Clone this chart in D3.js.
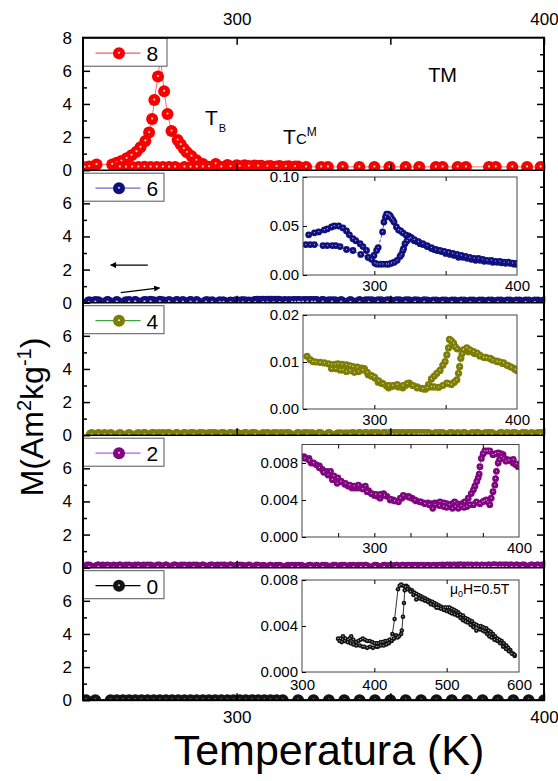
<!DOCTYPE html>
<html>
<head>
<meta charset="utf-8">
<script src="https://cdn.jsdelivr.net/npm/d3@7"></script>
<style>
  body { margin: 0; background: #fff; }
  svg { display: block; }
  text { font-family: "Liberation Sans", Arial, sans-serif; fill: #000; }
</style>
</head>
<body>
<svg id="chart" width="558" height="781"></svg>
<script>
// ---------- data: [temperature (K), M (Am2/kg)] ----------
const sampleLabels = ["8", "6", "4", "2", "0"];

// sample 8: warming branch with the blocking peak, and return branch
const s8Heat = [[250.5,0.18],[252,0.22],[254.4,0.35],[259.5,0.35],[261,0.45],[262.5,0.55],[264.2,0.72],[265.8,0.9],[267.4,1.12],[268.7,1.38],[270.3,1.77],[271.5,2.27],[272.5,3.09],[273.2,4.24],[274.4,5.66],[275.2,6.8],[276.4,4.77],[277.5,3.39],[278.8,2.37],[280.8,1.82],[281.8,1.55],[282.8,1.3],[283.8,1.08],[285.3,0.85],[286.9,0.6],[289,0.38],[293.2,0.38],[297,0.32],[300,0.3],[302.6,0.3],[305.8,0.28],[308,0.27],[311,0.26],[314,0.25],[317,0.24],[320,0.23],[322.6,0.2],[327.5,0.2],[329.7,0.2],[334.5,0.2],[339.9,0.2],[344.8,0.2],[349.7,0.2],[355,0.2],[359.4,0.2],[364.8,0.2],[367,0.2],[371.9,0.2],[374.6,0.2],[382.1,0.2],[384.3,0.2],[389.7,0.2],[394.5,0.2],[398.9,0.2]];
const s8Cool = [[262,0.2],[264,0.19],[266,0.2],[268,0.2],[270,0.21],[272,0.2],[274,0.2],[276,0.2],[278,0.19],[280,0.2],[283,0.2],[285,0.19],[287,0.2],[289,0.2],[291,0.21],[295,0.2],[298,0.22],[301,0.24],[304,0.25],[307,0.25],[310,0.24],[313,0.23],[316,0.22],[319,0.22]];

// sample 6
const s6Heat = [[252,0.031],[255,0.031],[258,0.031],[264,0.030],[267,0.030],[270.6,0.030],[273,0.030],[276,0.029],[280.5,0.026],[285,0.025],[290.5,0.021],[295.7,0.018],[299.7,0.020],[301.6,0.025],[302.7,0.028],[305.8,0.044],[306.7,0.054],[307.8,0.059],[308.6,0.062],[309.6,0.062],[310.5,0.061],[311.2,0.060],[312,0.058],[313,0.056],[313.8,0.054],[315.5,0.049],[317,0.046],[318.5,0.045],[320,0.043],[322,0.041],[324,0.040],[326,0.038],[328,0.035],[330,0.034],[332,0.032],[334,0.031],[337,0.029],[340,0.027],[342,0.026],[344,0.025],[347,0.024],[350,0.022],[353,0.021],[356,0.020],[359,0.018],[362,0.018],[365,0.017],[368,0.016],[371,0.015],[374,0.015],[377,0.014],[380,0.014],[383,0.013],[386,0.013],[389,0.0125],[392,0.012],[395,0.012],[398,0.011],[400,0.011]];
const s6Cool = [[400,0.012],[397,0.012],[394,0.013],[391,0.013],[388,0.014],[385,0.014],[382,0.015],[379,0.015],[376,0.016],[373,0.017],[370,0.017],[367,0.018],[364,0.019],[361,0.020],[358,0.021],[355,0.022],[352,0.023],[349,0.024],[346,0.025],[343,0.026],[340,0.028],[337,0.030],[334,0.032],[331,0.034],[328,0.036],[325.5,0.038],[324.5,0.037],[323,0.035],[321.5,0.032],[320.5,0.027],[320,0.025],[319,0.021],[318,0.019],[316,0.015],[314,0.013],[312,0.012],[310,0.011],[308.6,0.011],[306,0.011],[304,0.011],[302,0.011],[300.4,0.012],[298,0.016],[295.7,0.018],[294.5,0.025],[292,0.029],[290,0.032],[287,0.035],[285,0.037],[282.5,0.041],[280.5,0.045],[278,0.048],[275,0.050],[272,0.050],[270,0.049],[267,0.047],[265,0.046],[261,0.044],[258,0.043],[254,0.041]];

// sample 4
const s4Heat = [[252.8,0.0112],[255,0.0105],[257,0.0101],[259,0.0100],[262,0.0099],[265,0.0098],[268,0.0096],[270,0.0094],[272.5,0.0095],[274.6,0.0096],[277.5,0.0095],[280.5,0.0094],[283,0.0092],[285,0.0090],[288,0.0089],[291,0.0087],[293,0.0086],[295.7,0.0073],[298,0.0070],[300.4,0.0066],[302.7,0.0057],[305,0.0055],[308.6,0.0049],[310,0.0045],[312,0.0048],[314.5,0.0049],[317,0.0047],[320,0.0045],[322,0.0050],[324.5,0.0055],[327,0.0050],[330,0.0047],[333,0.0044],[335.6,0.0042],[338,0.0052],[340,0.0064],[342,0.0070],[343.8,0.0076],[346,0.0082],[348,0.0093],[349.6,0.0101],[350.8,0.0115],[352,0.0130],[352.7,0.0148],[354,0.0145],[355.5,0.0140],[356.6,0.0133],[358,0.0128],[362,0.0124],[366,0.0122],[370,0.0118],[374,0.0113],[378,0.0110],[382,0.0106],[386,0.0102],[390,0.0097],[394,0.0092],[398,0.0086],[400,0.0083]];
const s4Cool = [[400,0.0082],[398.8,0.0084],[396,0.0089],[393,0.0093],[390.6,0.0098],[388,0.0100],[386,0.0101],[383,0.0104],[381,0.0108],[378.6,0.0109],[376.6,0.0110],[374,0.0114],[372,0.0119],[369.5,0.0122],[367,0.0126],[364.8,0.0130],[362.5,0.0126],[361.5,0.0118],[360.6,0.0108],[359.8,0.0090],[359,0.0076],[357.8,0.0062],[356,0.0057],[354,0.0052],[352,0.0054],[350.8,0.0055],[348,0.0050],[345,0.0046],[342,0.0047],[340,0.0047],[337,0.0045],[334,0.0043],[330,0.0045],[327,0.0050],[323,0.0054],[320,0.0050],[316,0.0052],[313,0.0050],[310,0.0050],[306,0.0054],[303,0.0060],[300,0.0068],[298,0.0071],[295,0.0078],[292,0.0083],[289,0.0080],[286,0.0078],[283,0.0082],[280.5,0.0080],[278,0.0083],[276,0.0083],[273,0.0086],[270,0.0086]];

// sample 2
const s2Heat = [[251.4,0.0087],[254.8,0.0085],[256.4,0.0080],[260,0.0078],[262,0.0077],[264,0.0073],[267,0.0071],[269.7,0.0071],[272,0.0066],[274.8,0.0064],[277,0.0060],[279.6,0.0057],[282,0.0055],[284.6,0.0053],[287,0.0053],[289,0.0053],[291.5,0.0054],[293.8,0.0055],[296,0.0050],[298,0.0047],[300,0.0045],[302,0.0044],[304,0.0042],[306.4,0.0047],[308.7,0.0044],[311,0.0040],[313,0.0040],[316.7,0.0038],[319,0.0042],[321,0.0044],[323.6,0.0044],[326,0.0042],[329,0.0039],[331.5,0.0038],[334,0.0037],[337,0.0037],[339.7,0.0036],[342,0.0037],[345.4,0.0038],[348,0.0037],[350,0.0036],[352,0.0033],[354,0.0036],[355.5,0.0038],[357,0.0036],[359,0.0033],[360.5,0.0036],[362.4,0.0038],[364.9,0.0042],[367,0.0047],[368.5,0.0051],[369.5,0.0055],[370.8,0.0060],[371.8,0.0064],[372.5,0.0068],[373,0.0076],[374,0.0085],[375.2,0.0090],[376.4,0.0093],[378,0.0093],[379.8,0.0093],[382,0.0089],[383.8,0.0090],[385.6,0.0091],[387.4,0.0090],[389,0.0089],[391.3,0.0084],[393.5,0.0083],[395.9,0.0080],[397.8,0.0078],[399.4,0.0076]];
const s2Cool = [[400,0.0078],[398,0.0079],[396,0.0084],[393,0.0083],[391,0.0082],[389.5,0.0085],[387.8,0.0087],[386.6,0.0084],[385.6,0.0080],[384.4,0.0071],[383.8,0.0063],[383.3,0.0056],[382,0.0049],[380.8,0.0042],[379.8,0.0035],[378.5,0.0038],[377.5,0.0040],[376,0.0039],[375,0.0038],[373,0.0036],[370.6,0.0038],[368.5,0.0035],[366,0.0035],[364,0.0033],[362,0.0032],[360,0.0034],[358,0.0031],[356,0.0033],[354,0.0031],[352,0.0035],[350,0.0032],[348,0.0033],[345,0.0034],[342,0.0035],[340.4,0.0031],[338,0.0035],[335,0.0036],[332,0.0038],[328,0.0040],[324,0.0043],[320,0.0045],[318,0.0042],[314,0.0039],[311,0.0041],[307,0.0045],[304,0.0046],[301,0.0046],[298,0.0047],[295,0.0049],[292,0.0052],[289,0.0056],[286,0.0055],[283,0.0056],[280,0.0058],[277,0.0060],[274.3,0.0058],[271,0.0062],[268,0.0067],[265,0.0070],[262,0.0075],[258,0.0080],[255,0.0083],[252,0.0085]];

// sample 0: main-range run, and the wide-range run at 0.5 T
const s0Main = [[251,0.0030],[254,0.0031],[259,0.0030],[261,0.0029],[263,0.0030],[265,0.0031],[267,0.0030],[269,0.0029],[271,0.0030],[273,0.0030],[275,0.0029],[277,0.0030],[279,0.0031],[281,0.0030],[283,0.0029],[285,0.0030],[287,0.0030],[289,0.0031],[291,0.0030],[293,0.0029],[295,0.0030],[297,0.0030],[299,0.0029],[301,0.0030],[303,0.0031],[305,0.0030],[307,0.0029],[309,0.0030],[311,0.0030],[313,0.0029],[315,0.0030],[320,0.0029],[325,0.0030],[330,0.0029],[335,0.0030],[340,0.0029],[345,0.0030],[350,0.0029],[355,0.0031],[360,0.0029],[365,0.0028],[370,0.0030],[375,0.0026],[380,0.0028],[385,0.0029],[390,0.0027],[395,0.0026],[400,0.0025]];
const s0Heat = [[349.8,0.0029],[353,0.0029],[356.7,0.0031],[360,0.0029],[363.6,0.0028],[366,0.0029],[368,0.0031],[371,0.0028],[375,0.0026],[378,0.0027],[381,0.0028],[384,0.0029],[387,0.0028],[390,0.0027],[393.5,0.0027],[397,0.0026],[400,0.0025],[402.8,0.0025],[406,0.0025],[409,0.0026],[412,0.0026],[415,0.0027],[418,0.0027],[421,0.0028],[424.9,0.0033],[428,0.0046],[432.7,0.0072],[435,0.0075],[437,0.0076],[440,0.0075],[444,0.0075],[446,0.0074],[448.8,0.0072],[452,0.0071],[455,0.0069],[458,0.0068],[461,0.0067],[464,0.0066],[467,0.0065],[470,0.0064],[473,0.0063],[476.5,0.0062],[480,0.0061],[483,0.0060],[485.7,0.0059],[489,0.0058],[492,0.0057],[495,0.0056],[498,0.0056],[501,0.0056],[504,0.0056],[507,0.0055],[510,0.0054],[513,0.0053],[516,0.0052],[519,0.0050],[522.6,0.0049],[526,0.0047],[529,0.0046],[531.8,0.0045],[535,0.0044],[538,0.0042],[541,0.0041],[544,0.0040],[547,0.0040],[550,0.0039],[552,0.0038],[554.8,0.0038],[558,0.0036],[561,0.0035],[564,0.0033],[567,0.0031],[570,0.0029],[573,0.0028],[576,0.0027],[579,0.0025],[582.5,0.0023],[585,0.0021],[588,0.0019],[591.7,0.0016],[594,0.0014]];
const s0Cool = [[594,0.0015],[590,0.0016],[586,0.0018],[582,0.0020],[578,0.0022],[574,0.0025],[570,0.0027],[566,0.0028],[562,0.0030],[559,0.0031],[556,0.0033],[553,0.0035],[550,0.0036],[546,0.0037],[541,0.0036],[537,0.0039],[533,0.0041],[529,0.0043],[526,0.0044],[522.6,0.0045],[519,0.0047],[515,0.0049],[511,0.0050],[507,0.0051],[504,0.0052],[500,0.0053],[496,0.0054],[492,0.0055],[488,0.0056],[485.7,0.0056],[482,0.0058],[478,0.0059],[474,0.0061],[470,0.0062],[466,0.0063],[462,0.0064],[458,0.0063],[454,0.0067],[450,0.0070],[446,0.0072],[443,0.0074],[442,0.0071],[441,0.0060],[439.6,0.0048],[438,0.0036],[437,0.0033],[434,0.0031],[432,0.0030],[430,0.0032],[427,0.0029],[424,0.0027],[420,0.0025],[416.6,0.0024],[413,0.0023],[409,0.0023],[405,0.0022],[402.8,0.0022],[398,0.0021],[394,0.0022],[390,0.0021],[386,0.0022],[384,0.0022],[380,0.0023],[375,0.0023],[371,0.0024],[367,0.0025],[363,0.0026],[359,0.0027],[355,0.0026],[352,0.0027]];

// axis ticks
const mainTempTicks = [300, 350, 400];
const mainMTicks = [0, 2, 4, 6, 8];
const mainMMinor = [1, 3, 5, 7];

// ---------- styles & layout ----------
const panelSeries = {"8": [s8Heat, s8Cool], "6": [s6Heat, s6Cool], "4": [s4Heat, s4Cool], "2": [s2Heat, s2Cool], "0": [s0Main]};
const insetSeries = {"6": [s6Heat, s6Cool], "4": [s4Heat, s4Cool], "2": [s2Heat, s2Cool], "0": [s0Heat, s0Cool]};

// marker body colour and highlight tint
const style = {
  "8": {body: "#f80000", hi: "#ffd0d0", legendLine: "#ff5a5a", line: "#ff6a6a"},
  "6": {body: "#10107e", hi: "#c0c0f0", legendLine: "#6a6ad0", line: "#1a1a9a", insetLine: "#1c1c96", insetDash: "3,2"},
  "4": {body: "#7e7e06", hi: "#e8e8c0", legendLine: "#38a838", line: "#2faa55", insetLine: "#22c48a", insetDash: null},
  "2": {body: "#800680", hi: "#e8c0e8", legendLine: "#b060f0", line: "#7a107a", insetLine: "#333333", insetDash: "1.5,1.5"},
  "0": {body: "#141414", hi: "#c8c8c8", legendLine: "#000000", line: "#000000", insetLine: "#000000", insetDash: null}
};

const insetLayout = {
  "6": {x0: 303, x1: 517, y0: 177, y1: 275, tDomain: [250, 400], mDomain: [0, 0.10], mTicks: [0, 0.05, 0.10], fmt: ".2f", tLabels: [300, 400], tTicks: [300, 350], r: 3.4},
  "4": {x0: 303, x1: 517, y0: 315, y1: 409, tDomain: [250, 400], mDomain: [0, 0.02], mTicks: [0, 0.01, 0.02], fmt: ".2f", tLabels: [300, 400], tTicks: [300, 350], r: 3.6},
  "2": {x0: 302, x1: 519, y0: 444.5, y1: 537, tDomain: [250, 400], mDomain: [0, 0.010], mTicks: [0, 0.004, 0.008], fmt: ".3f", tLabels: [300, 400], tTicks: [275, 300, 325, 350, 375], r: 3.4},
  "0": {x0: 302, x1: 519, y0: 580, y1: 672, tDomain: [300, 600], mDomain: [0, 0.008], mTicks: [0, 0.004, 0.008], fmt: ".3f", tLabels: [300, 400, 500, 600], tTicks: [400, 500], r: 2.3}
};

const plotLeft = 83, plotRight = 544, plotTop = 37.7, panelH = 132.5;
const FONT = '"Liberation Sans", Arial, sans-serif';

const svg = d3.select("#chart");
const defs = svg.append("defs");
defs.append("marker").attr("id", "arrowHead").attr("viewBox", "0 0 10 10")
  .attr("refX", 9).attr("refY", 5).attr("markerWidth", 10).attr("markerHeight", 6)
  .attr("markerUnits", "userSpaceOnUse").attr("orient", "auto")
  .append("path").attr("d", "M0,0 L10,5 L0,10 z").attr("fill", "#000");

const x = d3.scaleLinear().domain([250, 400]).range([plotLeft, plotRight]);

function styleAxis(g, size) {
  g.select(".domain").remove();
  g.attr("font-family", FONT).attr("font-size", size || 17);
  g.selectAll(".tick line").attr("stroke", "#000").attr("stroke-width", 1.5);
  g.selectAll(".tick text").attr("fill", "#000");
}

// ball markers: solid body with a small bright highlight
function drawBalls(g, data, xs, ys, s, r) {
  g.selectAll(null).data(data).enter().append("circle")
    .attr("cx", d => xs(d[0])).attr("cy", d => ys(d[1])).attr("r", r)
    .attr("fill", s.body);
  g.selectAll(null).data(data).enter().append("circle")
    .attr("cx", d => xs(d[0])).attr("cy", d => ys(d[1]) - r * 0.08).attr("r", Math.max(0.6, r * 0.18))
    .attr("fill", s.hi);
}

function drawSeries(g, data, xs, ys, s, r, lineColor, lineW, dash) {
  const line = d3.line().x(d => xs(d[0])).y(d => ys(d[1]));
  g.append("path").datum(data).attr("d", line).attr("fill", "none")
    .attr("stroke", lineColor).attr("stroke-width", lineW)
    .attr("stroke-dasharray", dash || null);
  drawBalls(g, data, xs, ys, s, r);
}

sampleLabels.forEach((key, i) => {
  const top = plotTop + i * panelH, bottom = top + panelH;
  const y = d3.scaleLinear().domain([0, 8]).range([bottom, top]);
  const s = style[key];

  defs.append("clipPath").attr("id", "clip" + key).append("rect")
    .attr("x", plotLeft).attr("y", top).attr("width", plotRight - plotLeft).attr("height", panelH);

  const pg = svg.append("g").attr("clip-path", "url(#clip" + key + ")");
  panelSeries[key].forEach(ser => drawSeries(pg, ser, x, y, s, 6, s.line, 1, null));

  // panel base line
  svg.append("line").attr("x1", plotLeft).attr("x2", plotRight).attr("y1", bottom).attr("y2", bottom)
    .attr("stroke", "#000").attr("stroke-width", 1.5);

  // left axis
  svg.append("g").attr("transform", `translate(${plotLeft},0)`)
    .call(d3.axisLeft(y).tickValues(i === 0 ? mainMTicks : mainMTicks.slice(0, 4)).tickSize(-7).tickPadding(11))
    .call(g => styleAxis(g));
  svg.append("g").attr("transform", `translate(${plotLeft},0)`)
    .call(d3.axisLeft(y).tickValues(mainMMinor).tickSize(-4).tickFormat(""))
    .call(g => styleAxis(g));
  // right axis
  svg.append("g").attr("transform", `translate(${plotRight},0)`)
    .call(d3.axisRight(y).tickValues([2, 4, 6]).tickSize(-7).tickFormat(""))
    .call(g => styleAxis(g));
  svg.append("g").attr("transform", `translate(${plotRight},0)`)
    .call(d3.axisRight(y).tickValues(mainMMinor).tickSize(-4).tickFormat(""))
    .call(g => styleAxis(g));
  // bottom ticks of each panel
  svg.append("g").attr("transform", `translate(0,${bottom})`)
    .call(d3.axisBottom(x).tickValues(mainTempTicks).tickSize(-7).tickPadding(11)
      .tickFormat(d => (i === 4 && d !== 350) ? d : ""))
    .call(g => styleAxis(g));

  // legend
  const lg = svg.append("g").attr("transform", `translate(${plotLeft + 0.5},${top + (i === 0 ? 0.5 : 3)})`);
  lg.append("rect").attr("width", i === 0 ? 83.5 : 80.5).attr("height", 28).attr("fill", "#fff").attr("stroke", "#555").attr("stroke-width", 1);
  lg.append("line").attr("x1", 12).attr("x2", 57).attr("y1", 15).attr("y2", 15).attr("stroke", s.legendLine).attr("stroke-width", 1.2);
  drawBalls(lg, [[35.5, 15]], v => v, v => v, s, 6);
  lg.append("text").attr("x", 63).attr("y", 23).attr("font-size", 21).text(key);

  // inset
  const L = insetLayout[key];
  if (L) {
    const ix = d3.scaleLinear().domain(L.tDomain).range([L.x0, L.x1]);
    const iy = d3.scaleLinear().domain(L.mDomain).range([L.y1, L.y0]);
    const ig = svg.append("g");
    ig.append("rect").attr("x", L.x0).attr("y", L.y0).attr("width", L.x1 - L.x0).attr("height", L.y1 - L.y0)
      .attr("fill", "#fff");
    defs.append("clipPath").attr("id", "iclip" + key).append("rect")
      .attr("x", L.x0).attr("y", L.y0 - 4).attr("width", L.x1 - L.x0).attr("height", L.y1 - L.y0 + 4);
    const dg = ig.append("g").attr("clip-path", "url(#iclip" + key + ")");
    insetSeries[key].forEach(ser => drawSeries(dg, ser, ix, iy, s, L.r, s.insetLine, 0.8, s.insetDash));
    ig.append("rect").attr("x", L.x0).attr("y", L.y0).attr("width", L.x1 - L.x0).attr("height", L.y1 - L.y0)
      .attr("fill", "none").attr("stroke", "#444").attr("stroke-width", 1);
    ig.append("g").attr("transform", `translate(${L.x0},0)`)
      .call(d3.axisLeft(iy).tickValues(L.mTicks).tickSize(-4).tickPadding(4).tickFormat(d3.format(L.fmt)))
      .call(g => styleAxis(g, 15)).call(g => g.selectAll(".tick line").attr("stroke-width", 1));
    ig.append("g").attr("transform", `translate(0,${L.y1})`)
      .call(d3.axisBottom(ix).tickValues(L.tLabels).tickSize(0).tickPadding(key === "0" ? 7 : 5))
      .call(g => styleAxis(g, 15));
    ig.append("g").attr("transform", `translate(0,${L.y1})`)
      .call(d3.axisBottom(ix).tickValues(L.tTicks).tickSize(-4).tickFormat(""))
      .call(g => styleAxis(g)).call(g => g.selectAll(".tick line").attr("stroke-width", 1));
    ig.append("g").attr("transform", `translate(0,${L.y0})`)
      .call(d3.axisTop(ix).tickValues(L.tTicks).tickSize(-4).tickFormat(""))
      .call(g => styleAxis(g)).call(g => g.selectAll(".tick line").attr("stroke-width", 1));
  }
});

// top axis
svg.append("g").attr("transform", `translate(0,${plotTop})`)
  .call(d3.axisTop(x).tickValues(mainTempTicks).tickSize(-7).tickPadding(13)
    .tickFormat(d => d === 350 ? "" : d))
  .call(g => styleAxis(g));

// outer frame
svg.append("rect").attr("x", plotLeft).attr("y", plotTop)
  .attr("width", plotRight - plotLeft).attr("height", panelH * 5)
  .attr("fill", "none").attr("stroke", "#000").attr("stroke-width", 2);

// annotations in the top panel (sample 8)
const yTop = d3.scaleLinear().domain([0, 8]).range([plotTop + panelH, plotTop]);
const tb = svg.append("text").attr("x", x(289.7)).attr("y", yTop(2.73)).attr("font-size", 21);
tb.append("tspan").text("T");
tb.append("tspan").attr("font-size", 11).attr("dx", 1).attr("dy", 7.5).text("B");
const tc = svg.append("text").attr("x", x(315.1)).attr("y", yTop(1.6)).attr("font-size", 21);
tc.append("tspan").text("T");
tc.append("tspan").attr("font-size", 15).attr("dx", 0).text("C");
tc.append("tspan").attr("font-size", 12).attr("dy", -7.5).text("M");
svg.append("text").attr("x", x(362.3)).attr("y", yTop(5.3)).attr("font-size", 20).text("TM");

// warming / cooling arrows in the sample 6 panel
const y6 = d3.scaleLinear().domain([0, 8]).range([plotTop + 2 * panelH, plotTop + panelH]);
svg.append("line").attr("x1", x(271.1)).attr("y1", y6(2.27)).attr("x2", x(259.0)).attr("y2", y6(2.27))
  .attr("stroke", "#000").attr("stroke-width", 1.2).attr("marker-end", "url(#arrowHead)");
svg.append("line").attr("x1", x(262.3)).attr("y1", y6(0.61)).attr("x2", x(274.9)).attr("y2", y6(0.89))
  .attr("stroke", "#000").attr("stroke-width", 1.2).attr("marker-end", "url(#arrowHead)");

// field label in the sample 0 inset
const fl = svg.append("text").attr("x", 450).attr("y", 594).attr("font-size", 14);
fl.append("tspan").text("\u03bc");
fl.append("tspan").attr("font-size", 9).attr("dy", 3).text("0");
fl.append("tspan").attr("dy", -3).text("H=0.5T");

// axis titles
const yl = svg.append("text").attr("transform", "translate(43,417) rotate(-90)")
  .attr("text-anchor", "middle").attr("font-size", 32);
yl.append("tspan").text("M(Am");
yl.append("tspan").attr("font-size", 20).attr("dy", -12).text("2");
yl.append("tspan").attr("dy", 12).text("kg");
yl.append("tspan").attr("font-size", 20).attr("dy", -12).text("-1");
yl.append("tspan").attr("dy", 12).text(")");
svg.append("text").attr("x", 329).attr("y", 765).attr("text-anchor", "middle")
  .attr("font-size", 43).text("Temperatura (K)");
</script>
</body>
</html>
